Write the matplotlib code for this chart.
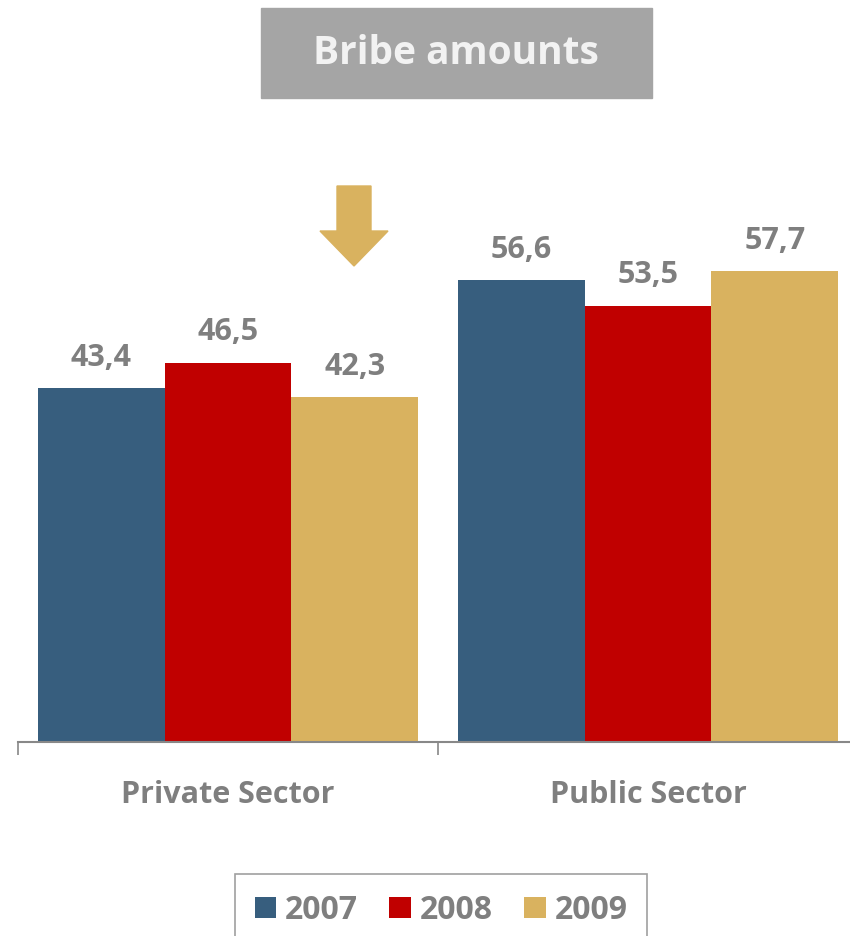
import matplotlib
matplotlib.use("Agg")
import matplotlib.pyplot as plt
from matplotlib.patches import Rectangle, FancyArrow
import numpy as np

plt.rcParams['font.family'] = ['Open Sans', 'DejaVu Sans']
plt.rcParams['font.weight'] = 'bold'

sectors = ['Private Sector', 'Public Sector']
years = ['2007', '2008', '2009']
vals_2007 = [43.4, 56.6]
vals_2008 = [46.5, 53.5]
vals_2009 = [42.3, 57.7]
colors = ['#375e7e', '#c00000', '#d9b25f']
grey = '#7f7f7f'

W, H = 850, 936
fig = plt.figure(figsize=(W / 100, H / 100), dpi=100)

# axes: baseline at y=742 px, x=-0.5 at 18 px, 420 px per category
ymax = 70.0
top_px = 742 - ymax * 8.157
ax = fig.add_axes([18 / W, (H - 742) / H, 840 / W, (742 - top_px) / H])
ax.set_xlim(-0.5, 1.5)
ax.set_ylim(0, ymax)

x = np.arange(len(sectors))
bw = 0.302
series = [vals_2007, vals_2008, vals_2009]
for i, (vals, col, yr) in enumerate(zip(series, colors, years)):
    pos = x + (i - 1) * bw
    ax.bar(pos, vals, width=bw, color=col, label=yr, zorder=2)
    for p, v in zip(pos, vals):
        ax.annotate(('%.1f' % v).replace('.', ','), (p, v), xytext=(0, 11),
                    textcoords='offset points', ha='center', va='bottom',
                    fontsize=22, fontweight='bold', color=grey)

for s in ['top', 'right', 'left']:
    ax.spines[s].set_visible(False)
ax.spines['bottom'].set_color('#888888')
ax.spines['bottom'].set_linewidth(1.5)
ax.set_yticks([])
ax.set_xticks([-0.5, 0.5, 1.5])
ax.set_xticklabels([])
ax.tick_params(axis='x', direction='out', length=9, width=1.2, color='#888888')
for xi, name in zip(x, sectors):
    ax.text(xi, -0.092, name, transform=ax.get_xaxis_transform(), ha='center',
            va='center', fontsize=22, fontweight='bold', color=grey)

# title box
fig.patches.append(Rectangle((261 / W, (H - 98) / H), 391 / W, 90 / H,
                             transform=fig.transFigure, color='#a5a5a5'))
fig.text(456 / W, (H - 54) / H, 'Bribe amounts', ha='center', va='center',
         fontsize=28, fontweight='bold', color='#f2f2f2')

# arrow
fig.patches.append(FancyArrow(354 / W, (H - 186) / H, 0, -80 / H,
                              width=34 / W, head_width=68 / W, head_length=35 / H,
                              length_includes_head=True, transform=fig.transFigure,
                              color='#d9b25f'))

leg = fig.legend(loc='upper center', bbox_to_anchor=(441 / W, (H - 874) / H), ncol=3,
                 frameon=True, fancybox=False, fontsize=23, handlelength=0.66,
                 handleheight=0.66, handletextpad=0.28, columnspacing=1.0,
                 borderpad=0.62, borderaxespad=0)
leg.get_frame().set_edgecolor('#888888')
leg.get_frame().set_linewidth(1.2)
for t in leg.get_texts():
    t.set_color(grey)
    t.set_fontweight('bold')

fig.savefig('out.png', dpi=100)
